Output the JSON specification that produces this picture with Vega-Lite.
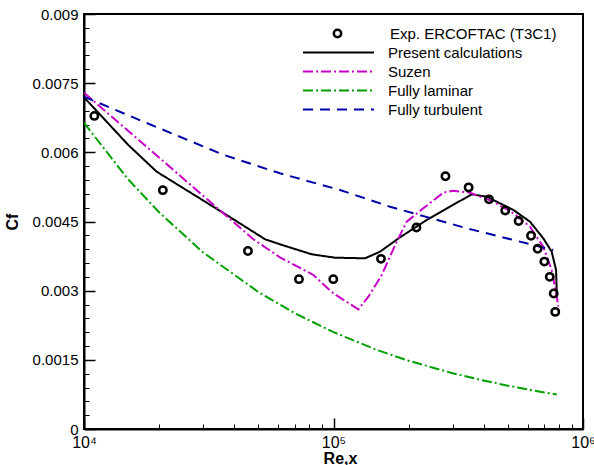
{
  "$schema": "https://vega.github.io/schema/vega-lite/v6.json",
  "width": 499,
  "height": 415,
  "autosize": {"type": "none"},
  "padding": {"left": 84, "top": 14, "right": 11, "bottom": 36},
  "background": "white",
  "config": {
    "font": "Liberation Sans",
    "view": {"stroke": "black", "strokeWidth": 2},
    "axis": {"grid": false, "domainColor": "black", "domainWidth": 2, "tickColor": "black", "labelColor": "black", "titleColor": "black", "labelFont": "Liberation Sans", "titleFont": "Liberation Sans"}
  },
  "resolve": {"scale": {"x": "independent", "y": "independent"}, "axis": {"x": "independent", "y": "independent"}},
  "datasets": {
    "exp": [
      {"re": 11000, "cf": 0.00679, "src": "Exp. ERCOFTAC (T3C1)"},
      {"re": 20700, "cf": 0.00518, "src": "Exp. ERCOFTAC (T3C1)"},
      {"re": 45400, "cf": 0.00386, "src": "Exp. ERCOFTAC (T3C1)"},
      {"re": 72700, "cf": 0.00325, "src": "Exp. ERCOFTAC (T3C1)"},
      {"re": 99800, "cf": 0.00325, "src": "Exp. ERCOFTAC (T3C1)"},
      {"re": 155000, "cf": 0.00369, "src": "Exp. ERCOFTAC (T3C1)"},
      {"re": 215000, "cf": 0.00437, "src": "Exp. ERCOFTAC (T3C1)"},
      {"re": 281000, "cf": 0.00548, "src": "Exp. ERCOFTAC (T3C1)"},
      {"re": 348000, "cf": 0.00524, "src": "Exp. ERCOFTAC (T3C1)"},
      {"re": 420000, "cf": 0.00498, "src": "Exp. ERCOFTAC (T3C1)"},
      {"re": 488000, "cf": 0.00474, "src": "Exp. ERCOFTAC (T3C1)"},
      {"re": 552000, "cf": 0.00451, "src": "Exp. ERCOFTAC (T3C1)"},
      {"re": 619000, "cf": 0.00419, "src": "Exp. ERCOFTAC (T3C1)"},
      {"re": 658000, "cf": 0.00391, "src": "Exp. ERCOFTAC (T3C1)"},
      {"re": 700000, "cf": 0.00363, "src": "Exp. ERCOFTAC (T3C1)"},
      {"re": 736000, "cf": 0.0033, "src": "Exp. ERCOFTAC (T3C1)"},
      {"re": 763000, "cf": 0.00294, "src": "Exp. ERCOFTAC (T3C1)"},
      {"re": 774000, "cf": 0.00254, "src": "Exp. ERCOFTAC (T3C1)"}
    ],
    "curves": [
      {"series": "Present calculations", "i": 1, "re": 10000, "cf": 0.007194},
      {"series": "Present calculations", "i": 2, "re": 15050, "cf": 0.006159},
      {"series": "Present calculations", "i": 3, "re": 19560, "cf": 0.00558},
      {"series": "Present calculations", "i": 4, "re": 37300, "cf": 0.004641},
      {"series": "Present calculations", "i": 5, "re": 53200, "cf": 0.004114},
      {"series": "Present calculations", "i": 6, "re": 61000, "cf": 0.004006},
      {"series": "Present calculations", "i": 7, "re": 81800, "cf": 0.003789},
      {"series": "Present calculations", "i": 8, "re": 101400, "cf": 0.003715},
      {"series": "Present calculations", "i": 9, "re": 133800, "cf": 0.003702},
      {"series": "Present calculations", "i": 10, "re": 153600, "cf": 0.003845},
      {"series": "Present calculations", "i": 11, "re": 184800, "cf": 0.004157},
      {"series": "Present calculations", "i": 12, "re": 236300, "cf": 0.004533},
      {"series": "Present calculations", "i": 13, "re": 358000, "cf": 0.00509},
      {"series": "Present calculations", "i": 14, "re": 411000, "cf": 0.005038},
      {"series": "Present calculations", "i": 15, "re": 526000, "cf": 0.00475},
      {"series": "Present calculations", "i": 16, "re": 613000, "cf": 0.004496},
      {"series": "Present calculations", "i": 17, "re": 693000, "cf": 0.004136},
      {"series": "Present calculations", "i": 18, "re": 749000, "cf": 0.003845},
      {"series": "Present calculations", "i": 19, "re": 780000, "cf": 0.003448},
      {"series": "Present calculations", "i": 20, "re": 785000, "cf": 0.002943},
      {"series": "Suzen", "i": 1, "re": 10000, "cf": 0.007294},
      {"series": "Suzen", "i": 2, "re": 31200, "cf": 0.004981},
      {"series": "Suzen", "i": 3, "re": 47600, "cf": 0.00412},
      {"series": "Suzen", "i": 4, "re": 61000, "cf": 0.003724},
      {"series": "Suzen", "i": 5, "re": 83000, "cf": 0.00334},
      {"series": "Suzen", "i": 6, "re": 99800, "cf": 0.002943},
      {"series": "Suzen", "i": 7, "re": 125800, "cf": 0.002596},
      {"series": "Suzen", "i": 8, "re": 137900, "cf": 0.002869},
      {"series": "Suzen", "i": 9, "re": 156100, "cf": 0.00334},
      {"series": "Suzen", "i": 10, "re": 179200, "cf": 0.004062},
      {"series": "Suzen", "i": 11, "re": 196500, "cf": 0.004496},
      {"series": "Suzen", "i": 12, "re": 229000, "cf": 0.004786},
      {"series": "Suzen", "i": 13, "re": 275500, "cf": 0.005125},
      {"series": "Suzen", "i": 14, "re": 302000, "cf": 0.005168},
      {"series": "Suzen", "i": 15, "re": 352500, "cf": 0.005125},
      {"series": "Suzen", "i": 16, "re": 437000, "cf": 0.00493},
      {"series": "Suzen", "i": 17, "re": 526000, "cf": 0.004678},
      {"series": "Suzen", "i": 18, "re": 613000, "cf": 0.004387},
      {"series": "Suzen", "i": 19, "re": 693000, "cf": 0.003954},
      {"series": "Suzen", "i": 20, "re": 749000, "cf": 0.003448},
      {"series": "Suzen", "i": 21, "re": 785000, "cf": 0.002869},
      {"series": "Suzen", "i": 22, "re": 796000, "cf": 0.002652},
      {"series": "Fully laminar", "i": 1, "re": 10000, "cf": 0.00664},
      {"series": "Fully laminar", "i": 2, "re": 15000, "cf": 0.00542},
      {"series": "Fully laminar", "i": 3, "re": 20000, "cf": 0.0047},
      {"series": "Fully laminar", "i": 4, "re": 30000, "cf": 0.00383},
      {"series": "Fully laminar", "i": 5, "re": 50000, "cf": 0.00297},
      {"series": "Fully laminar", "i": 6, "re": 70000, "cf": 0.00251},
      {"series": "Fully laminar", "i": 7, "re": 100000, "cf": 0.0021},
      {"series": "Fully laminar", "i": 8, "re": 150000, "cf": 0.00171},
      {"series": "Fully laminar", "i": 9, "re": 200000, "cf": 0.00148},
      {"series": "Fully laminar", "i": 10, "re": 300000, "cf": 0.00121},
      {"series": "Fully laminar", "i": 11, "re": 400000, "cf": 0.00105},
      {"series": "Fully laminar", "i": 12, "re": 500000, "cf": 0.00094},
      {"series": "Fully laminar", "i": 13, "re": 600000, "cf": 0.00086},
      {"series": "Fully laminar", "i": 14, "re": 700000, "cf": 0.00079},
      {"series": "Fully laminar", "i": 15, "re": 785000, "cf": 0.00075},
      {"series": "Fully turbulent", "i": 1, "re": 10000, "cf": 0.007207},
      {"series": "Fully turbulent", "i": 2, "re": 17940, "cf": 0.00663},
      {"series": "Fully turbulent", "i": 3, "re": 36400, "cf": 0.005942},
      {"series": "Fully turbulent", "i": 4, "re": 61000, "cf": 0.005545},
      {"series": "Fully turbulent", "i": 5, "re": 106200, "cf": 0.005183},
      {"series": "Fully turbulent", "i": 6, "re": 168500, "cf": 0.004821},
      {"series": "Fully turbulent", "i": 7, "re": 342000, "cf": 0.004353},
      {"series": "Fully turbulent", "i": 8, "re": 760000, "cf": 0.003882}
    ]
  },
  "layer": [
    {
      "data": {"name": "curves"},
      "mark": {"type": "line", "strokeWidth": 2, "clip": true},
      "encoding": {
        "x": {
          "field": "re", "type": "quantitative",
          "scale": {"type": "log", "domain": [10000, 1000000], "nice": false},
          "axis": {
            "orient": "bottom",
            "title": "Re,x",
            "titleFontSize": 16, "titleFontWeight": "bold",
            "titleX": 256, "titleY": 34, "titleBaseline": "alphabetic", "titleAlign": "center",
            "values": [10000, 100000, 1000000], "tickCount": 50,
            "labelExpr": "datum.value == 10000 ? '10⁴' : datum.value == 100000 ? '10⁵' : '10⁶'",
            "labelFontSize": 16, "labelFlush": false, "labelOverlap": false, "labelPadding": 16,
            "tickSize": -11, "tickWidth": 1.5
          }
        },
        "y": {
          "field": "cf", "type": "quantitative",
          "scale": {"domain": [0, 0.009], "nice": false, "zero": false},
          "axis": {
            "orient": "left",
            "title": "Cf",
            "titleFontSize": 16, "titleFontWeight": "bold",
            "titleAngle": -90, "titleX": -67, "titleY": 207.5, "titleAlign": "center", "titleBaseline": "alphabetic",
            "values": [0, 0.0015, 0.003, 0.0045, 0.006, 0.0075, 0.009], "tickCount": 50,
            "labelExpr": "format(datum.value, '.4~f')",
            "labelFontSize": 15, "labelFlush": false, "labelOverlap": false, "labelPadding": 17,
            "tickSize": -11, "tickWidth": 1.5
          }
        },
        "order": {"field": "i", "type": "quantitative"},
        "color": {
          "field": "series", "type": "nominal",
          "scale": {"domain": ["Present calculations", "Suzen", "Fully laminar", "Fully turbulent"], "range": ["#000000", "#c800c8", "#00a000", "#0000a8"]},
          "legend": {
            "title": null, "orient": "none", "legendX": 218, "legendY": 29,
            "symbolType": "stroke", "symbolSize": 5041, "symbolStrokeWidth": 2,
            "labelFontSize": 15, "labelColor": "black", "labelOffset": 13, "labelLimit": 300,
            "rowPadding": 0, "clipHeight": 19, "padding": 0
          }
        },
        "strokeDash": {
          "field": "series", "type": "nominal",
          "scale": {"domain": ["Present calculations", "Suzen", "Fully laminar", "Fully turbulent"], "range": [[1, 0], [10, 3, 2, 3], [10, 3, 2, 3], [10, 7]]},
          "legend": null
        }
      }
    },
    {
      "data": {"name": "exp"},
      "mark": {"type": "point", "filled": false, "stroke": "black", "strokeWidth": 2.5, "size": 55, "opacity": 1},
      "encoding": {
        "x": {
          "field": "re", "type": "quantitative",
          "scale": {"type": "log", "domain": [10000, 1000000], "nice": false},
          "axis": {
            "orient": "bottom", "title": null, "domain": false, "labels": false,
            "values": [20000, 30000, 40000, 50000, 60000, 70000, 80000, 90000, 200000, 300000, 400000, 500000, 600000, 700000, 800000, 900000],
            "tickCount": 50,
            "tickSize": -5, "tickWidth": 1
          }
        },
        "y": {
          "field": "cf", "type": "quantitative",
          "scale": {"domain": [0, 0.009], "nice": false, "zero": false},
          "axis": {
            "orient": "left", "title": null, "domain": false, "labels": false,
            "values": [0.0003, 0.0006, 0.0009, 0.0012, 0.0018, 0.0021, 0.0024, 0.0027, 0.0033, 0.0036, 0.0039, 0.0042, 0.0048, 0.0051, 0.0054, 0.0057, 0.0063, 0.0066, 0.0069, 0.0072, 0.0078, 0.0081, 0.0084, 0.0087],
            "tickCount": 50,
            "tickSize": -5, "tickWidth": 1
          }
        },
        "shape": {
          "field": "src", "type": "nominal",
          "scale": {"range": ["circle"]},
          "legend": {
            "title": null, "orient": "none", "legendX": 246, "legendY": 10,
            "symbolSize": 55, "symbolStrokeWidth": 2.5, "symbolStrokeColor": "black", "symbolFillColor": "transparent",
            "labelFontSize": 15, "labelColor": "black", "labelOffset": 45, "labelLimit": 300,
            "rowPadding": 0, "clipHeight": 19, "padding": 0
          }
        }
      }
    }
  ]
}
